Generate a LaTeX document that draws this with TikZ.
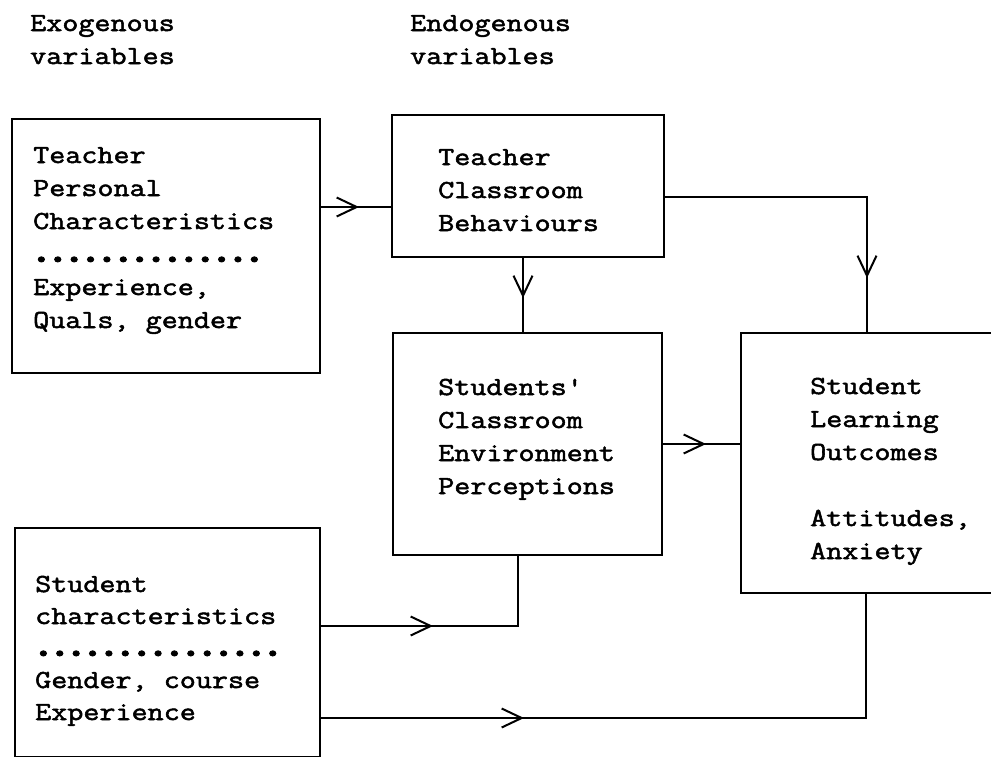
\documentclass[tikz,border=0pt]{standalone}
\usepackage{fontspec}
\newfontfamily\tw{Latin Modern Mono}[Ligatures=TeXOff,FakeStretch=1.2,FakeBold=2]
\usetikzlibrary{arrows.meta,decorations.markings,fit}
\tikzset{
  box/.style={draw, line width=2pt, inner sep=0pt},
  txt/.style={font=\tw\fontsize{26}{33}\selectfont, align=left, anchor=base west, inner sep=0pt},
  conn/.style={line width=2pt},
  midtip/.style={postaction={decorate}, decoration={markings,
      mark=at position #1 with {\arrow{Straight Barb[length=20pt,width=19pt,line width=2pt]}}}}
}
\newcommand{\tdot}{\makebox[16.38pt][c]{\fontsize{46}{33}\selectfont.}}
\begin{document}
\begin{tikzpicture}[x=1pt,y=-1pt]
\useasboundingbox (0,0) rectangle (991,756);
\clip (0,0) rectangle (991,756);
% headers (anchor = baseline of last line)
\node[txt] (h1) at (30,64) {Exogenous\\variables};
\node[txt] (h2) at (410,64) {Endogenous\\variables};
% boxes
\node[box, fit={(12,119) (320,373)}] (b1) {};
\node[box, fit={(392,115) (664,257)}] (b2) {};
\node[box, fit={(393,333) (662,555)}] (b3) {};
\node[box, fit={(741,333) (1005,593)}] (b4) {};
\node[box, fit={(15,528) (320,757)}] (b5) {};
% texts
\node[txt] (t1) at (33,328) {Teacher\\Personal\\Characteristics\\\tdot\tdot\tdot\tdot\tdot\tdot\tdot\tdot\tdot\tdot\tdot\tdot\tdot\tdot\\Experience,\\Quals, gender};
\node[txt] (t2) at (438,231) {Teacher\\Classroom\\Behaviours};
\node[txt] (t3) at (438,494) {Students'\\Classroom\\Environment\\Perceptions};
\node[txt] (t4) at (810,559) {Student\\Learning\\Outcomes\\[33pt]Attitudes,\\Anxiety};
\node[txt, font=\tw\fontsize{26}{32}\selectfont] (t5) at (35,720) {Student\\characteristics\\\tdot\tdot\tdot\tdot\tdot\tdot\tdot\tdot\tdot\tdot\tdot\tdot\tdot\tdot\tdot\\Gender, course\\Experience};
% connectors
\draw[conn, midtip=38pt] (b1.east |- 0,207) -- (b2.west |- 0,207);
\draw[conn, midtip=40pt] (b2.south -| 523,0) -- (b3.north -| 523,0);
\draw[conn, midtip=283pt] (b2.east |- 0,197) -| (b4.north -| 867,0);
\draw[conn, midtip=43pt] (b3.east |- 0,444) -- (b4.west |- 0,444);
\draw[conn, midtip=112pt] (b5.east |- 0,626) -| (b3.south -| 518,0);
\draw[conn, midtip=203pt] (b5.east |- 0,718) -| (b4.south -| 866,0);
\end{tikzpicture}
\end{document}
